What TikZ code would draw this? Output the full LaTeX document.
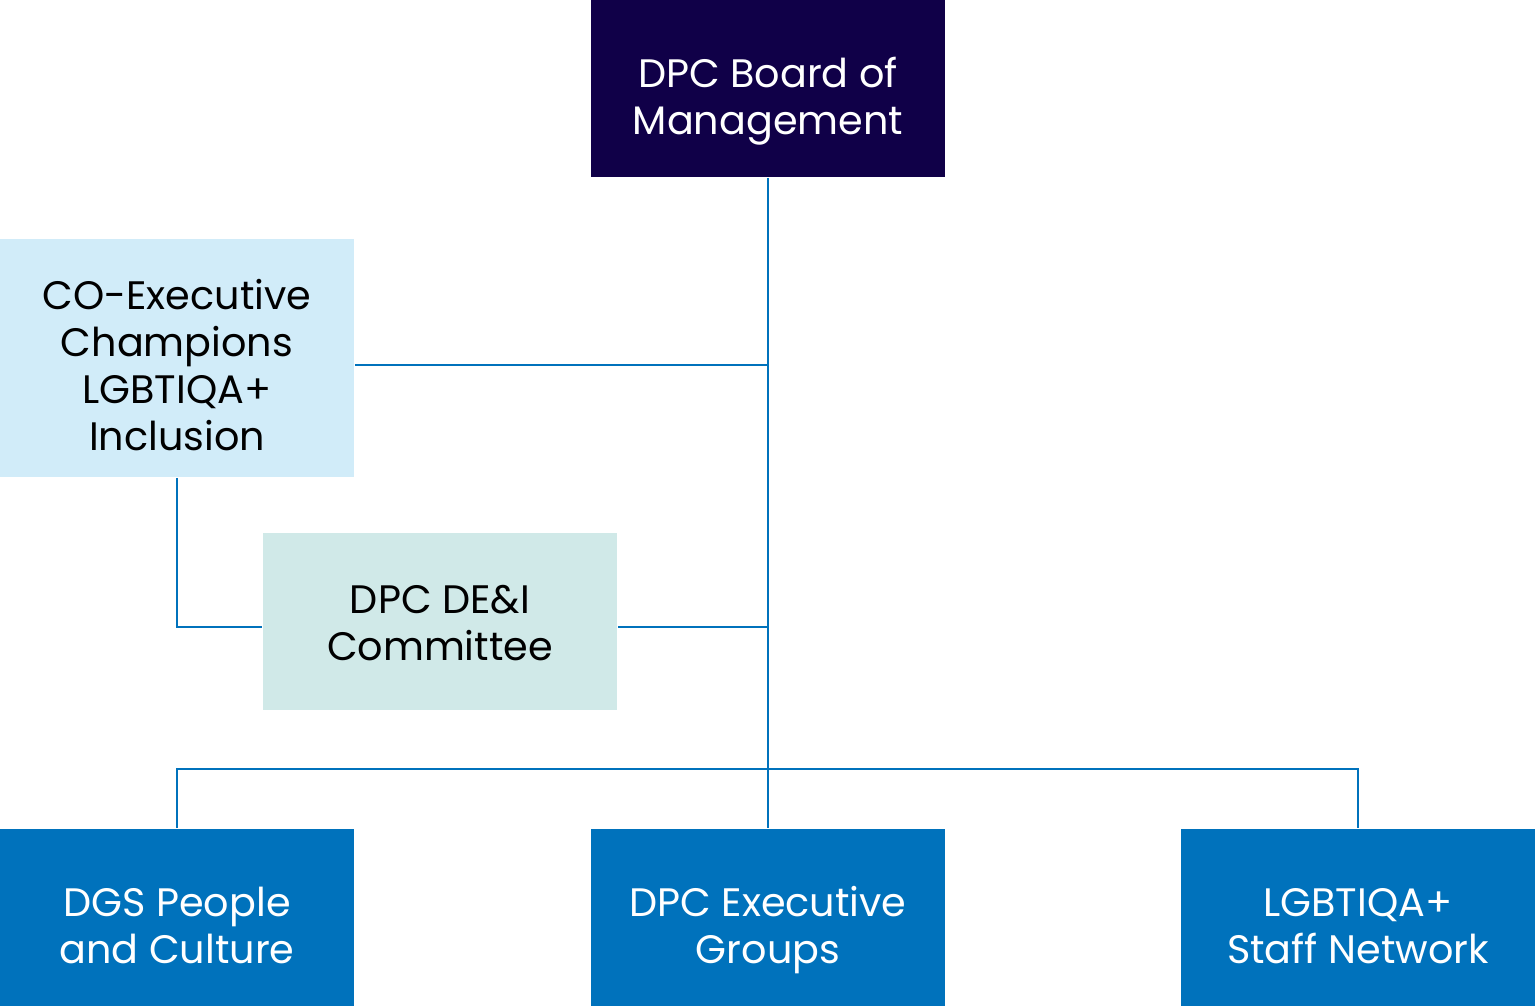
\documentclass[tikz,border=0pt]{standalone}
\usepackage{fontspec}
\setmainfont{Poppins}
\usepackage{tikz}
\usetikzlibrary{calc,positioning}
\usepackage{xcolor}
\definecolor{mynavy}{RGB}{16,0,72}
\definecolor{myblue}{RGB}{0,114,188}
\definecolor{mylight}{RGB}{209,236,249}
\definecolor{myteal}{RGB}{208,233,232}

\begin{document}
\begin{tikzpicture}[x=0.01cm, y=-0.01cm,
  box/.style={minimum width=3.54cm, minimum height=1.77cm, inner sep=0pt, align=center,
    text depth=0pt, text height=26pt, font=\fontsize{11.3}{13.4}\selectfont},
  link/.style={myblue, line width=0.57pt}]
  \useasboundingbox (0,0) rectangle (1535,1006);

  % Top
  \node[box, fill=mynavy, text=white] (board) at (768,88.5) {DPC Board of\\Management};

  % Middle
  \node[box, fill=mylight, minimum height=2.38cm, text height=52.8pt] (champ) at (177,358) {CO-Executive\\Champions\\LGBTIQA+\\Inclusion};
  \node[box, fill=myteal, text height=22pt] (dei) at (440,621.5) {DPC DE\&I\\Committee};

  % Bottom
  \node[box, fill=myblue, text=white] (dgs) at (177,917.5) {DGS People\\and Culture};
  \node[box, fill=myblue, text=white] (exec) at (768,917.5) {DPC Executive\\Groups};
  \node[box, fill=myblue, text=white] (lgbt) at (1358,917.5) {LGBTIQA+\\Staff Network};

  % Links
  \coordinate (bus) at (768,769);
  \draw[link] (board.south) -- (exec.north);
  \draw[link] ([yshift=-0.07cm]champ.east) -- ([yshift=-0.07cm]champ.east -| board.south);
  \draw[link] (champ.south) |- ([yshift=-0.055cm]dei.west);
  \draw[link] ([yshift=-0.055cm]dei.east) -- ([yshift=-0.055cm]dei.east -| board.south);
  \draw[link] (dgs.north) |- (bus) -| (lgbt.north);
\end{tikzpicture}
\end{document}
